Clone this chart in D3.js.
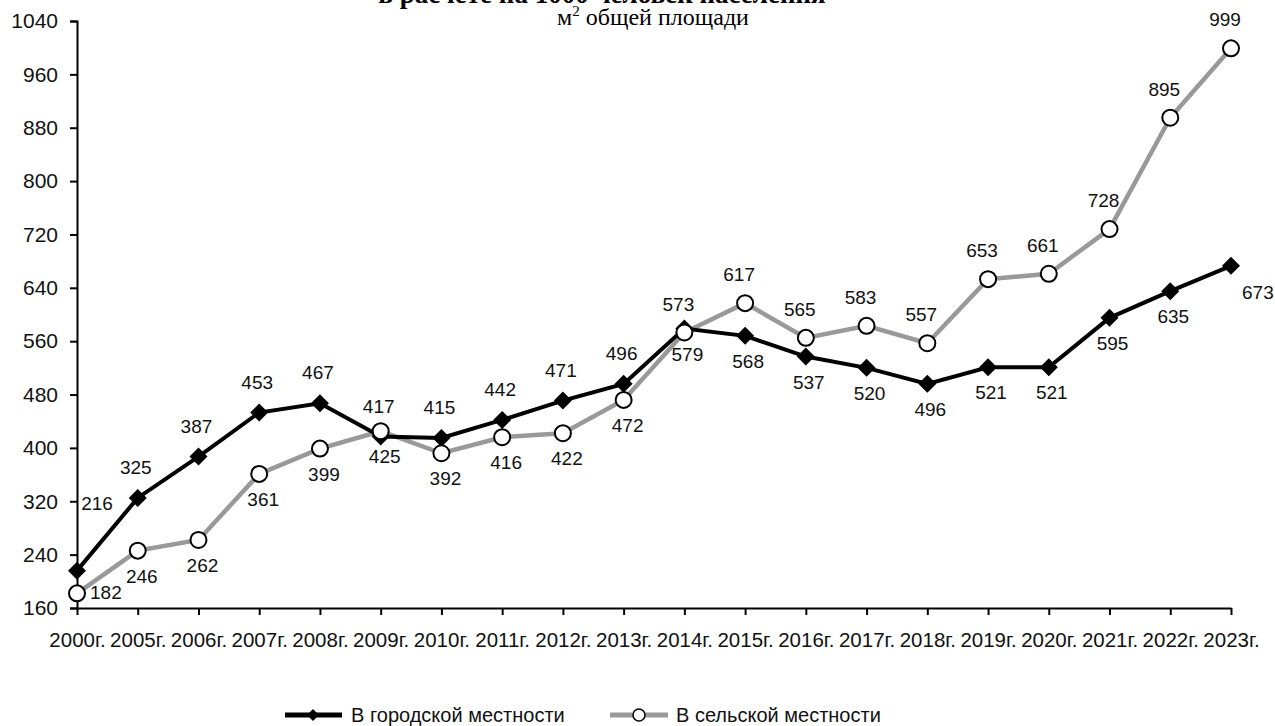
<!DOCTYPE html>
<html>
<head>
<meta charset="utf-8">
<script src="https://cdn.jsdelivr.net/npm/d3@7"></script>
<style>
  body { margin: 0; background: #fff; }
  svg { display: block; }
  text { font-family: "Liberation Sans", Arial, sans-serif; fill: #111; }
</style>
</head>
<body>
<svg id="chart" width="1275" height="726"></svg>
<script>
// Données
const annees = ["2000г.", "2005г.", "2006г.", "2007г.", "2008г.", "2009г.", "2010г.",
  "2011г.", "2012г.", "2013г.", "2014г.", "2015г.", "2016г.", "2017г.", "2018г.",
  "2019г.", "2020г.", "2021г.", "2022г.", "2023г."];

const urbain = [216, 325, 387, 453, 467, 417, 415, 442, 471, 496, 579, 568, 537, 520, 496, 521, 521, 595, 635, 673];
const rural = [182, 246, 262, 361, 399, 425, 392, 416, 422, 472, 573, 617, 565, 583, 557, 653, 661, 728, 895, 999];

const yTicks = [160, 240, 320, 400, 480, 560, 640, 720, 800, 880, 960, 1040];

const titre = "в расчете на 1000 человек населения";
const sousTitre = "общей площади";
const legendeUrbain = "В городской местности";
const legendeRural = "В сельской местности";

const svg = d3.select("#chart");

// Echelles
const xScale = d3.scalePoint()
  .domain(annees)
  .range([77, 1231]);

const yScale = d3.scaleLinear()
  .domain([160, 1040])
  .range([608, 21]);

// Titre (coupé en haut comme l'original)
svg.append("text")
  .text(titre)
  .attr("x", 602)
  .attr("y", 3)
  .attr("text-anchor", "middle")
  .style("font-family", "'Liberation Serif', 'Times New Roman', serif")
  .style("font-weight", "bold")
  .style("font-size", "27px")
  .style("fill", "#000");

const st = svg.append("text")
  .attr("x", 653)
  .attr("y", 25)
  .attr("text-anchor", "middle")
  .style("font-family", "'Liberation Serif', 'Times New Roman', serif")
  .style("font-size", "24px")
  .style("fill", "#000");
st.append("tspan").text("м");
st.append("tspan").text("2").attr("dy", -9).style("font-size", "15px");
st.append("tspan").text(" " + sousTitre).attr("dy", 9);

// Axe Y
svg.append("g")
  .attr("transform", "translate(77,0)")
  .call(d3.axisLeft(yScale).tickValues(yTicks).tickFormat(d3.format("d"))
    .tickSize(7).tickSizeOuter(7).tickPadding(12))
  .call(g => g.select(".domain").attr("stroke-width", 2).attr("stroke", "#000"))
  .call(g => g.selectAll(".tick line").attr("stroke-width", 2).attr("stroke", "#000"))
  .call(g => g.selectAll(".tick text")
    .style("font-size", "21px")
    .style("font-family", "'Liberation Sans', Arial, sans-serif")
    .attr("fill", "#111"));

// Axe X
svg.append("g")
  .attr("transform", "translate(0,608)")
  .call(d3.axisBottom(xScale).tickSize(7).tickSizeOuter(0).tickPadding(17))
  .call(g => g.select(".domain").attr("stroke-width", 2).attr("stroke", "#000"))
  .call(g => g.selectAll(".tick line").attr("stroke-width", 2).attr("stroke", "#000"))
  .call(g => g.selectAll(".tick text")
    .style("font-size", "20.5px")
    .style("font-family", "'Liberation Sans', Arial, sans-serif")
    .attr("fill", "#111"));

// Lignes
const ligne = d3.line()
  .x((d, i) => xScale(annees[i]))
  .y(d => yScale(d));

svg.append("path")
  .datum(rural)
  .attr("d", ligne)
  .attr("fill", "none")
  .attr("stroke", "#999")
  .attr("stroke-width", 4.5);

svg.append("path")
  .datum(urbain)
  .attr("d", ligne)
  .attr("fill", "none")
  .attr("stroke", "#000")
  .attr("stroke-width", 4);

// Marqueurs
const losange = "M0,-9L9,0L0,9L-9,0Z";

svg.selectAll(".pt-urbain")
  .data(urbain)
  .enter()
  .append("path")
  .attr("class", "pt-urbain")
  .attr("d", losange)
  .attr("transform", (d, i) => `translate(${xScale(annees[i])},${yScale(d)})`)
  .attr("fill", "#000");

svg.selectAll(".pt-rural")
  .data(rural)
  .enter()
  .append("circle")
  .attr("class", "pt-rural")
  .attr("cx", (d, i) => xScale(annees[i]))
  .attr("cy", d => yScale(d))
  .attr("r", 8)
  .attr("fill", "#fff")
  .attr("stroke", "#000")
  .attr("stroke-width", 2);

// Etiquettes : au-dessus / au-dessous selon la période
const dernier = annees.length - 1;

function placerUrbain(d, i) {
  if (i === 0) return { dx: 20, dy: -61, anchor: "middle" };
  if (i === dernier) return { dx: 11, dy: 33, anchor: "start" };
  if (i < 10) return { dx: -2, dy: -24, anchor: "middle" };
  return { dx: 3, dy: 32, anchor: "middle" };
}

function placerRural(d, i) {
  if (i === 0) return { dx: 13, dy: 6, anchor: "start" };
  if (i < 10) return { dx: 4, dy: 32, anchor: "middle" };
  return { dx: -6, dy: -22, anchor: "middle" };
}

function etiquettes(data, placer, cls) {
  svg.selectAll("." + cls)
    .data(data)
    .enter()
    .append("text")
    .attr("class", cls)
    .text(d => d)
    .attr("x", (d, i) => xScale(annees[i]) + placer(d, i).dx)
    .attr("y", (d, i) => yScale(d) + placer(d, i).dy)
    .attr("text-anchor", (d, i) => placer(d, i).anchor)
    .style("font-size", "19px");
}

etiquettes(urbain, placerUrbain, "lbl-urbain");
etiquettes(rural, placerRural, "lbl-rural");

// Légende
const legende = svg.append("g");

legende.append("line")
  .attr("x1", 285).attr("x2", 342).attr("y1", 715).attr("y2", 715)
  .attr("stroke", "#000").attr("stroke-width", 5);
legende.append("path")
  .attr("d", "M0,-6L6,0L0,6L-6,0Z")
  .attr("transform", "translate(313,715)")
  .attr("fill", "#000");
legende.append("text")
  .text(legendeUrbain)
  .attr("x", 351).attr("y", 722)
  .style("font-size", "20px");

legende.append("line")
  .attr("x1", 610).attr("x2", 668).attr("y1", 715).attr("y2", 715)
  .attr("stroke", "#999").attr("stroke-width", 5);
legende.append("circle")
  .attr("cx", 639).attr("cy", 715).attr("r", 6)
  .attr("fill", "#fff").attr("stroke", "#000").attr("stroke-width", 1.5);
legende.append("text")
  .text(legendeRural)
  .attr("x", 676).attr("y", 722)
  .style("font-size", "20px");
</script>
</body>
</html>
